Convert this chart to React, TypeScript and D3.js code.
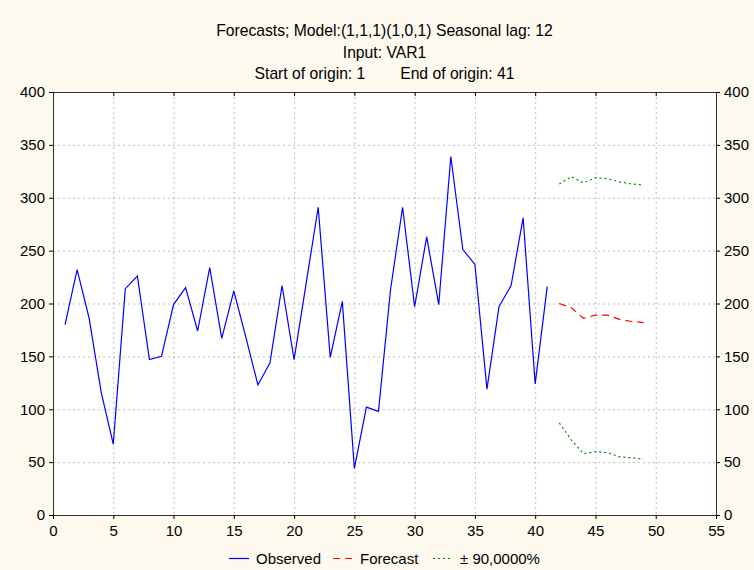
import * as d3 from 'd3';
import { useEffect, useRef } from 'react';

// observed series, t = 1..41
const observedT = d3.range(1, 42);
const observed = [
  180, 232, 186, 116, 67, 214, 226, 147, 150, 199,
  215, 174, 234, 167, 212, 168, 123, 144, 217, 147,
  219, 291, 149, 202, 44, 102, 98, 213, 291, 197,
  263, 199, 339, 251, 237, 119, 197, 217, 281, 124,
  216,
];

// forecast horizon, t = 42..49
const forecastT = [42, 43, 44, 45, 46, 47, 48, 49];
const forecast = [200, 196, 186, 189, 189, 185, 183, 182];
const upper = [313, 320, 314, 319, 318, 315, 313, 312];
const lower = [87, 71, 58, 60, 59, 55, 54, 53];

const xTicks = d3.range(0, 56, 5);
const yTicks = d3.range(0, 401, 50);

const titleLines = [
  'Forecasts; Model:(1,1,1)(1,0,1) Seasonal lag: 12',
  'Input: VAR1',
  'Start of origin: 1        End of origin: 41',
];

const FONT = '"Liberation Sans", Arial, sans-serif';

const ForecastChart = () => {
  const svgRef = useRef(null);

  useEffect(() => {
    document.body.style.margin = '0';
    const svg = d3.select(svgRef.current);
    svg.selectAll('*').remove();
    const svgWidth = 754;
    const svgHeight = 570;
    const margin = { top: 92, right: 38, bottom: 55, left: 53 };
    const width = svgWidth - margin.left - margin.right;
    const height = svgHeight - margin.top - margin.bottom;

    svg.append('rect')
      .attr('width', svgWidth)
      .attr('height', svgHeight)
      .attr('fill', '#fdf9ee');

    // titles
    svg.selectAll('.title')
      .data(titleLines)
      .enter()
      .append('text')
      .attr('class', 'title')
      .attr('x', margin.left + width / 2)
      .attr('y', (d, i) => 36 + i * 21.5)
      .attr('text-anchor', 'middle')
      .style('font-family', FONT)
      .style('font-size', '15.7px')
      .style('white-space', 'pre')
      .text(d => d);

    const g = svg.append('g')
      .attr('transform', `translate(${margin.left},${margin.top})`);

    const x = d3.scaleLinear().domain([0, 55]).range([0, width]);
    const y = d3.scaleLinear().domain([0, 400]).range([height, 0]);

    g.append('rect')
      .attr('width', width)
      .attr('height', height)
      .attr('fill', '#fff');

    // grid
    g.selectAll('.vgrid')
      .data(xTicks.slice(1, -1))
      .enter()
      .append('line')
      .attr('x1', d => x(d) + 0.5)
      .attr('x2', d => x(d) + 0.5)
      .attr('y1', 0)
      .attr('y2', height)
      .attr('stroke', '#bcbcbc')
      .attr('stroke-dasharray', '2,3');

    g.selectAll('.hgrid')
      .data(yTicks.slice(1, -1))
      .enter()
      .append('line')
      .attr('x1', 0)
      .attr('x2', width)
      .attr('y1', d => y(d) + 0.5)
      .attr('y2', d => y(d) + 0.5)
      .attr('stroke', '#bcbcbc')
      .attr('stroke-dasharray', '2,3');

    // axes
    const styleAxis = sel => {
      sel.select('.domain').attr('stroke', '#333');
      sel.selectAll('text')
        .style('font-family', FONT)
        .style('font-size', '15px')
        .attr('fill', '#000');
    };

    g.append('g')
      .attr('transform', `translate(0,${height})`)
      .call(d3.axisBottom(x).tickValues(xTicks).tickSize(4).tickSizeOuter(0).tickPadding(6))
      .call(styleAxis);
    g.append('g')
      .call(d3.axisTop(x).tickValues(xTicks).tickSize(-4).tickSizeOuter(0).tickFormat(() => ''))
      .call(styleAxis);
    g.append('g')
      .call(d3.axisLeft(y).tickValues(yTicks).tickSize(4).tickSizeOuter(0).tickPadding(4))
      .call(styleAxis);
    g.append('g')
      .attr('transform', `translate(${width},0)`)
      .call(d3.axisRight(y).tickValues(yTicks).tickSize(4).tickSizeOuter(0).tickPadding(4))
      .call(styleAxis);

    // series
    const line = d3.line().x(d => x(d[0])).y(d => y(d[1]));

    g.append('path')
      .datum(d3.zip(observedT, observed))
      .attr('d', line)
      .attr('fill', 'none')
      .attr('stroke', '#0000ff')
      .attr('stroke-width', 1.2);

    g.append('path')
      .datum(d3.zip(forecastT, forecast))
      .attr('d', line)
      .attr('fill', 'none')
      .attr('stroke', '#ff0000')
      .attr('stroke-width', 1.2)
      .attr('stroke-dasharray', '7,5');

    [upper, lower].forEach(band => {
      g.append('path')
        .datum(d3.zip(forecastT, band))
        .attr('d', line)
        .attr('fill', 'none')
        .attr('stroke', '#008000')
        .attr('stroke-width', 1.2)
        .attr('stroke-dasharray', '2,3');
    });

    // legend
    const legend = [
      { label: 'Observed', color: '#0000ff', dash: null, x: 229 },
      { label: 'Forecast', color: '#ff0000', dash: '7,5', x: 333 },
      { label: '± 90,0000%', color: '#008000', dash: '2,3', x: 433 },
    ];
    const lg = svg.selectAll('.legend')
      .data(legend)
      .enter()
      .append('g')
      .attr('class', 'legend')
      .attr('transform', d => `translate(${d.x},559)`);
    lg.append('line')
      .attr('x1', 0)
      .attr('x2', 20)
      .attr('y1', -0.5)
      .attr('y2', -0.5)
      .attr('stroke', d => d.color)
      .attr('stroke-width', 1.2)
      .attr('stroke-dasharray', d => d.dash);
    lg.append('text')
      .attr('x', 27)
      .attr('y', 5)
      .style('font-family', FONT)
      .style('font-size', '15px')
      .text(d => d.label);
  }, []);

  return (
    <svg ref={svgRef} width={754} height={570} style={{ display: 'block' }}></svg>
  );
};

export default function App() {
  return <ForecastChart />;
}
